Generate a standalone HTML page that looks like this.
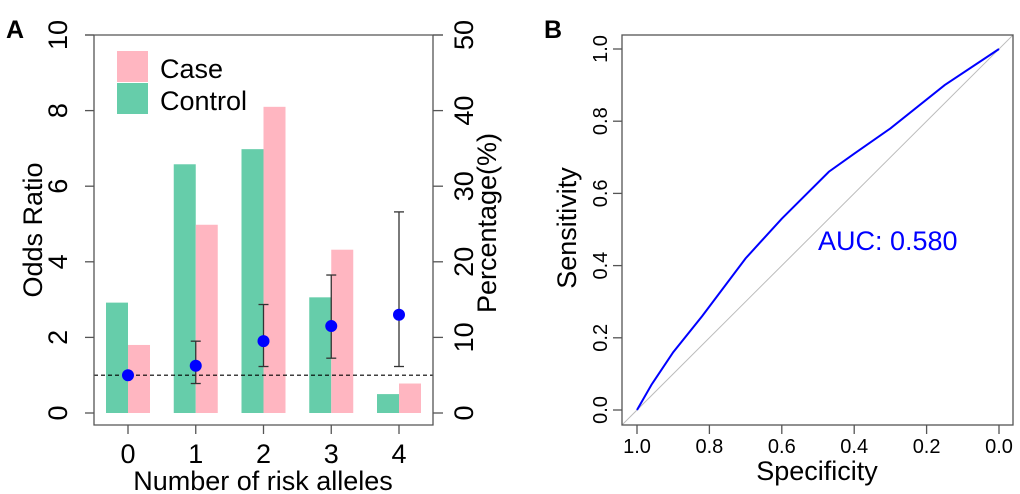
<!DOCTYPE html>
<html><head><meta charset="utf-8"><style>
body{margin:0;background:#fff;}
svg{display:block;font-family:"Liberation Sans",Arial,sans-serif;}
</style></head><body>
<svg id="fig" width="1020" height="494" viewBox="0 0 1020 494">
<text x="6" y="38" font-size="25" font-weight="bold">A</text>
<text x="544" y="38" font-size="25" font-weight="bold">B</text>
<g id="pa"></g>
<g id="pb"></g>
</svg>
<script>
const categories = ["0","1","2","3","4"];
const controlPct = [14.6, 32.9, 34.9, 15.3, 2.5];
const casePct = [9.0, 24.9, 40.5, 21.6, 3.9];
const oddsRatio = [1.0, 1.25, 1.9, 2.3, 2.6];
const ciLower = [null, 0.78, 1.23, 1.45, 1.23];
const ciUpper = [null, 1.9, 2.87, 3.65, 5.32];
const orTicks = [0,2,4,6,8,10];
const pctTicks = [0,10,20,30,40,50];
const rocSpec = [1.0, 0.96, 0.9, 0.82, 0.7, 0.6, 0.47, 0.4, 0.3, 0.15, 0.0];
const rocSens = [0.0, 0.07, 0.16, 0.26, 0.42, 0.53, 0.66, 0.71, 0.78, 0.9, 1.0];
const rocTicks = [0.0,0.2,0.4,0.6,0.8,1.0];
const aucLabel = "AUC: 0.580";

const NS="http://www.w3.org/2000/svg";
function mk(p,t,a,txt){const e=document.createElementNS(NS,t);for(const k in a)e.setAttribute(k,a[k]);if(txt!==undefined)e.textContent=txt;p.appendChild(e);return e;}

// Panel A
const pa=document.getElementById('pa');
const yOR=v=>413-v*37.8;
const yPct=v=>413-v*37.8/5;
const xCat=i=>128+i*67.75;
const bw=22;
categories.forEach((c,i)=>{
  let r=mk(pa,'rect',{x:xCat(i)-bw,y:yPct(controlPct[i]),width:bw,height:413-yPct(controlPct[i]),fill:'#66cdaa'});
  
  
  r=mk(pa,'rect',{x:xCat(i),y:yPct(casePct[i]),width:bw,height:413-yPct(casePct[i]),fill:'#ffb6c1'});
  
  
});
let dl=mk(pa,'line',{x1:94,x2:433,y1:yOR(1),y2:yOR(1),stroke:'#000','stroke-width':1.2,'stroke-dasharray':'4,3'});


categories.forEach((c,i)=>{
  if(ciLower[i]!==null){
    const g=mk(pa,'g',{stroke:'#333','stroke-width':1.3});
    
    
    mk(g,'line',{x1:xCat(i),x2:xCat(i),y1:yOR(ciLower[i]),y2:yOR(ciUpper[i])});
    mk(g,'line',{x1:xCat(i)-5,x2:xCat(i)+5,y1:yOR(ciLower[i]),y2:yOR(ciLower[i])});
    mk(g,'line',{x1:xCat(i)-5,x2:xCat(i)+5,y1:yOR(ciUpper[i]),y2:yOR(ciUpper[i])});
  }
  const p=mk(pa,'circle',{cx:xCat(i),cy:yOR(oddsRatio[i]),r:6,fill:'#0000ff'});
  
  
});
let ax=mk(pa,'path',{d:'M94,35V425H433V35',fill:'none',stroke:'#555','stroke-width':1.3});


mk(pa,'line',{x1:85,x2:443,y1:35,y2:35,stroke:'#555','stroke-width':1.3});
orTicks.forEach(t=>{
  mk(pa,'line',{x1:85,x2:94,y1:yOR(t),y2:yOR(t),stroke:'#555','stroke-width':1.3});
  const l=mk(pa,'text',{x:0,y:0,'font-size':27,'text-anchor':'middle',transform:`translate(67,${yOR(t)}) rotate(-90)`},String(t));
  
  
});
pctTicks.forEach(t=>{
  mk(pa,'line',{x1:433,x2:443,y1:yPct(t),y2:yPct(t),stroke:'#555','stroke-width':1.3});
  const l=mk(pa,'text',{x:0,y:0,'font-size':27,'text-anchor':'middle',transform:`translate(473,${yPct(t)}) rotate(-90)`},String(t));
  
  
});
categories.forEach((c,i)=>{
  mk(pa,'line',{x1:xCat(i),x2:xCat(i),y1:425,y2:434,stroke:'#555','stroke-width':1.3});
  const l=mk(pa,'text',{x:xCat(i),y:463,'font-size':27,'text-anchor':'middle'},c);
  
  
});
let t1=mk(pa,'text',{x:263,y:490,'font-size':27,'text-anchor':'middle'},'Number of risk alleles');

let t2=mk(pa,'text',{x:0,y:0,'font-size':27,'text-anchor':'middle',transform:'translate(42,230) rotate(-90)'},'Odds Ratio');

let t3=mk(pa,'text',{x:0,y:0,'font-size':27,'text-anchor':'middle',transform:'translate(496,223) rotate(-90)'},'Percentage(%)');

let lg=mk(pa,'g',{});

mk(lg,'rect',{x:117,y:51,width:31,height:31,fill:'#ffb6c1'});
mk(lg,'rect',{x:117,y:83,width:31,height:31,fill:'#66cdaa'});
mk(lg,'text',{x:160,y:78,'font-size':27},'Case');
mk(lg,'text',{x:160,y:110,'font-size':27},'Control');

// Panel B
const pb=document.getElementById('pb');
const xS=v=>999-v*362;
const yS=v=>410-v*361;
let dg=mk(pb,'line',{x1:xS(1.04),y1:yS(-0.04),x2:xS(-0.04),y2:yS(1.04),stroke:'#bbb','stroke-width':1});

let pts=rocSpec.map((s,i)=>xS(s)+','+yS(rocSens[i])).join(' ');
let rc=mk(pb,'polyline',{points:pts,fill:'none',stroke:'#0000ff','stroke-width':2});

let fr=mk(pb,'rect',{x:622,y:35,width:391,height:390,fill:'none',stroke:'#555','stroke-width':1.3});

rocTicks.forEach(t=>{
  mk(pb,'line',{x1:613,x2:622,y1:yS(t),y2:yS(t),stroke:'#555','stroke-width':1.3});
  let l=mk(pb,'text',{x:0,y:0,'font-size':20,'text-anchor':'middle',transform:`translate(607,${yS(t)}) rotate(-90)`},t.toFixed(1));
  
  mk(pb,'line',{x1:xS(t),x2:xS(t),y1:425,y2:434,stroke:'#555','stroke-width':1.3});
  l=mk(pb,'text',{x:xS(t),y:453,'font-size':20,'text-anchor':'middle'},t.toFixed(1));
  
});
let t4=mk(pb,'text',{x:817,y:480,'font-size':27,'text-anchor':'middle'},'Specificity');

let t5=mk(pb,'text',{x:0,y:0,'font-size':27,'text-anchor':'middle',transform:'translate(576,228) rotate(-90)'},'Sensitivity');

let t6=mk(pb,'text',{x:818,y:250,'font-size':27,fill:'#0000ff'},aucLabel);

</script>
</body></html>
